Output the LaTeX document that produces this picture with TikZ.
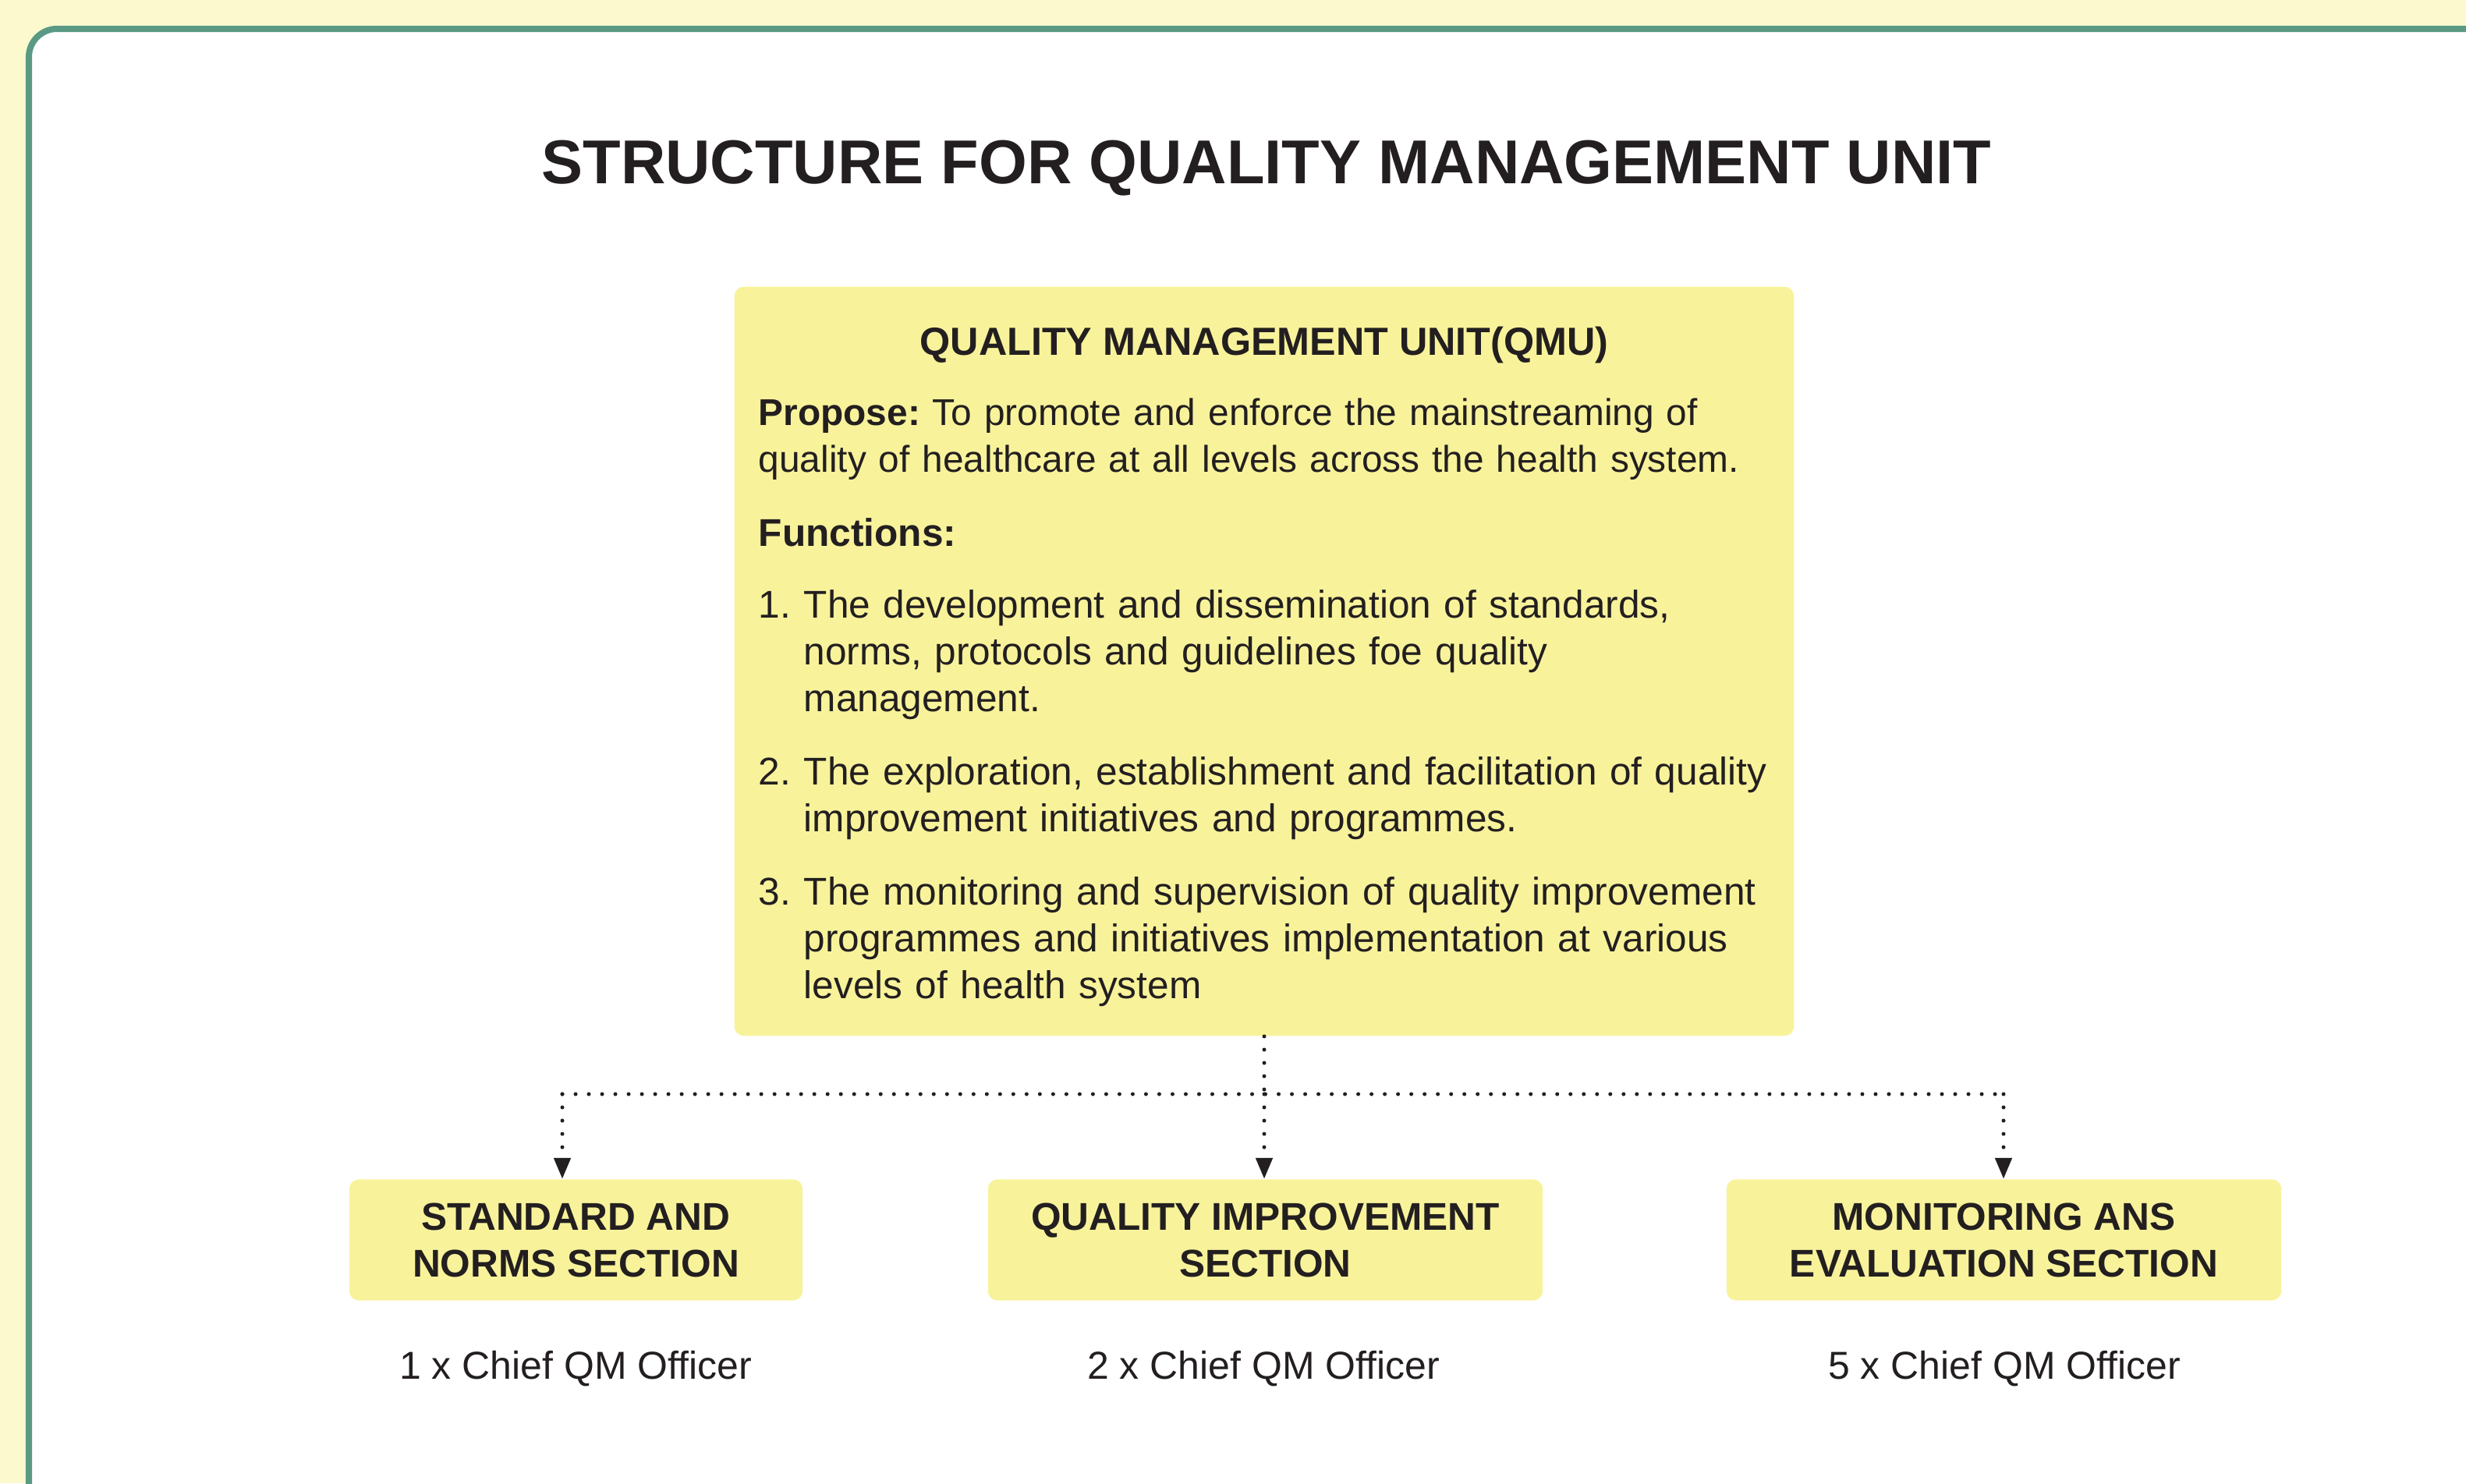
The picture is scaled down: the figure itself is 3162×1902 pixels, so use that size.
\documentclass[tikz,border=0pt]{standalone}
\usepackage{fontspec}
\setmainfont{Liberation Sans}
\usetikzlibrary{arrows.meta}
\definecolor{cream}{HTML}{FCF9CE}
\definecolor{framegreen}{HTML}{5A9A85}
\definecolor{boxyellow}{HTML}{F8F39B}
\definecolor{ink}{HTML}{231F20}
\frenchspacing
\begin{document}
\begin{tikzpicture}[x=0.01cm,y=-0.01cm,
  every node/.style={text=ink, inner sep=0pt},
  titletext/.style={font=\fontsize{22.6}{27}\bfseries\selectfont, anchor=base},
  mainbox/.style={fill=boxyellow, rounded corners=0.12cm, minimum width=13.58cm, minimum height=9.6cm},
  headtext/.style={font=\fontsize{14.3}{17.3}\bfseries\selectfont, anchor=base},
  bodytext/.style={font=\fontsize{13.6}{17.3}\selectfont, anchor=base west, align=left, text width=15cm},
  listtext/.style={font=\fontsize{14.1}{17.2}\selectfont, anchor=base west, align=left, text width=15cm},
  numtext/.style={font=\fontsize{14.1}{17.2}\selectfont, anchor=base west},
  secbox/.style={fill=boxyellow, rounded corners=0.12cm, minimum height=1.55cm, align=center,
     font=\fontsize{14.1}{17.1}\bfseries\selectfont},
  officer/.style={font=\fontsize{14.2}{17}\selectfont, anchor=base},
  dotline/.style={line width=0.05cm, line cap=round, dash pattern=on 0pt off 0.17cm, ink},
  tip/.style={-{Triangle[length=0.27cm,width=0.21cm]}}
]
\fill[cream] (0,0) rectangle (3162,1902);
\useasboundingbox (0,0) rectangle (3162,1902);
\fill[white, rounded corners=0.36cm] (37,37) rectangle (3260,2000);
\draw[framegreen, line width=0.08cm, rounded corners=0.36cm] (37,1960) -- (37,37) -- (3260,37);

\node[titletext] (title) at (1624,235) {STRUCTURE FOR QUALITY MANAGEMENT UNIT};

\node[mainbox] (main) at (1621,848) {};
\node[headtext] (head) at (1621,455) {QUALITY MANAGEMENT UNIT(QMU)};
\node[bodytext] (propose) at (972,545) {\textbf{Propose:} To promote and enforce the mainstreaming of\\quality of healthcare at all levels across the health system.};
\node[listtext] (functions) at (972,700) {\textbf{Functions:}};
\node[numtext] (n1) at (972,792) {1.};
\node[listtext] (f1) at (1030,792) {The development and dissemination of standards,\\norms, protocols and guidelines foe quality\\management.};
\node[numtext] (n2) at (972,1006) {2.};
\node[listtext] (f2) at (1030,1006) {The exploration, establishment and facilitation of quality\\improvement initiatives and programmes.};
\node[numtext] (n3) at (972,1160) {3.};
\node[listtext] (f3) at (1030,1160) {The monitoring and supervision of quality improvement\\programmes and initiatives implementation at various\\levels of health system};

\node[secbox, minimum width=5.81cm] (s1) at (738.5,1590) {STANDARD AND\\NORMS SECTION};
\node[secbox, minimum width=7.11cm] (s2) at (1622.5,1590) {QUALITY IMPROVEMENT\\SECTION};
\node[secbox, minimum width=7.11cm] (s3) at (2569.5,1590) {MONITORING ANS\\EVALUATION SECTION};

\node[officer] (o1) at (738,1768) {1 x Chief QM Officer};
\node[officer] (o2) at (1620,1768) {2 x Chief QM Officer};
\node[officer] (o3) at (2570,1768) {5 x Chief QM Officer};

\coordinate (jl) at (721,1403);
\coordinate (jm) at (1621,1403);
\coordinate (jr) at (2569,1403);
\draw[dotline] (main.south) -- (jm);
\draw[dotline] (jl) -- (jr);
\draw[dotline, tip] (jl) -- (jl |- s1.north);
\draw[dotline, tip] (jm) -- (jm |- s2.north);
\draw[dotline, tip] (jr) -- (jr |- s3.north);
\end{tikzpicture}
\end{document}
